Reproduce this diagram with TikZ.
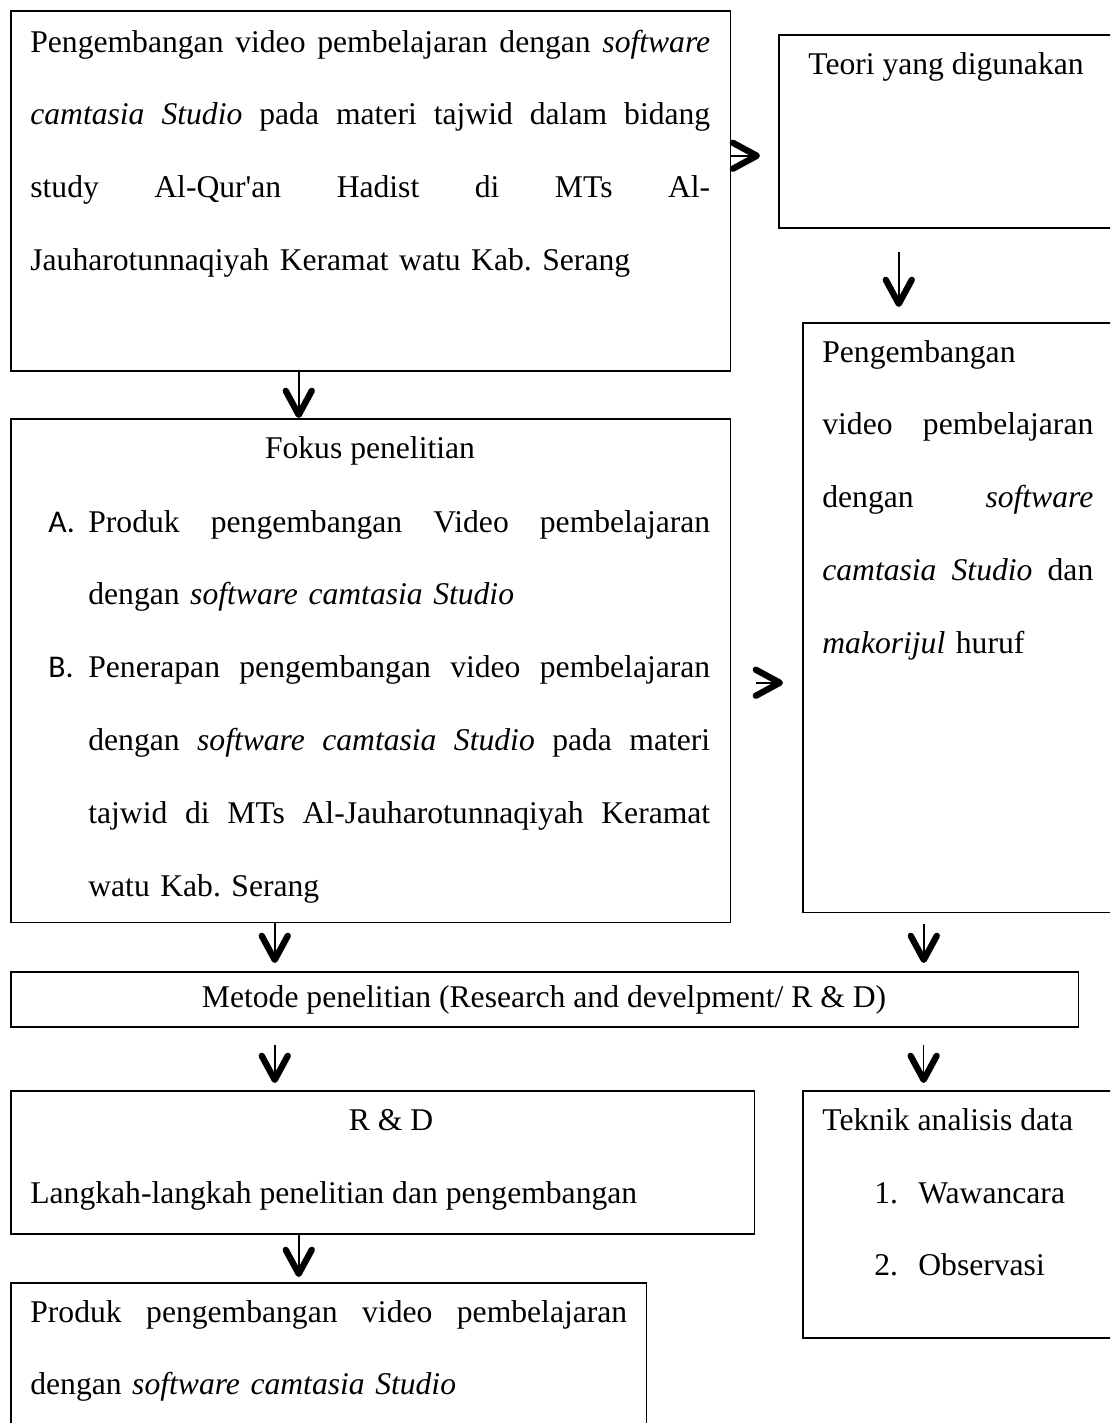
\documentclass[tikz,border=0pt]{standalone}
\usepackage{fontspec}
\setmainfont{Liberation Serif}
\newfontfamily\lblfont{Carlito}
\usetikzlibrary{arrows.meta}
\frenchspacing

\newcommand{\jline}[1]{\makebox[\hsize][s]{\spaceskip=0pt\relax #1}\\}
\newcommand{\lbl}[1]{\leavevmode\llap{\makebox[0.8cm][l]{\lblfont #1}}}
\newcommand{\nmr}[1]{\leavevmode\llap{\makebox[0.88cm][l]{#1}}}

\begin{document}
\begin{tikzpicture}
		[x=0.02cm, y=-0.02cm,
		box/.style = {draw, line width=0.9pt, anchor=north west, inner sep=0},
		txt/.style = {inner sep=0, font=\fontsize{18}{41.5}\selectfont},
		arr/.style = {line width=0.9pt, -{Straight Barb[length=0.48cm, width=0.52cm, line width=3.6pt, round]}}]
	\useasboundingbox (0,0) rectangle (1110,1423);
	\clip (0,0) rectangle (1110,1423);
	\node[box, minimum width=14.4cm, minimum height=7.2cm] (main) at (10,10) {};
	\node[txt, text width=13.6cm, anchor=base west] (maintext) at (30,52) {\jline{Pengembangan video pembelajaran dengan \textit{software}}\jline{\textit{camtasia Studio} pada materi tajwid dalam bidang}\jline{study Al-Qur\textquotesingle an Hadist di MTs Al-}Jauharotunnaqiyah Keramat watu Kab. Serang};
	\node[box, minimum width=6.76cm, minimum height=3.86cm] (teori) at (778,34) {};
	\node[txt, anchor=base west] (teoritext) at (808,74) {Teori yang digunakan};
	\node[box, minimum width=6.4cm, minimum height=11.8cm] (kajian) at (802,322) {};
	\node[txt, text width=5.42cm, anchor=base west] (kajiantext) at (822,362) {Pengembangan\\ \jline{video pembelajaran}\jline{dengan \textit{software}}\jline{\textit{camtasia Studio} dan}\textit{makorijul} huruf};
	\node[box, minimum width=14.4cm, minimum height=10.08cm] (fokus) at (10,418) {};
	\node[txt, anchor=base] (fokustitle) at (370,458) {Fokus penelitian};
	\node[txt, text width=12.44cm, anchor=base west] (fokuslist) at (88,532) {\jline{\lbl{A.}Produk pengembangan Video pembelajaran}dengan \textit{software camtasia Studio}\\ \jline{\lbl{B.}Penerapan pengembangan video pembelajaran}\jline{dengan \textit{software camtasia Studio} pada materi}\jline{tajwid di MTs Al-Jauharotunnaqiyah Keramat}watu Kab. Serang};
	\node[box, minimum width=21.36cm, minimum height=1.1cm] (metode) at (10,971) {};
	\node[txt, anchor=base] (metodetext) at (544,1007) {Metode penelitian (Research and develpment/ R \& D)};
	\node[box, minimum width=14.88cm, minimum height=2.86cm] (rnd) at (10,1090) {};
	\node[txt, anchor=base] (rndtitle) at (391,1130) {R \& D};
	\node[txt, anchor=base west] (rndtext) at (30,1203) {Langkah-langkah penelitian dan pengembangan};
	\node[box, minimum width=12.72cm, minimum height=2.92cm] (produk) at (10,1282) {};
	\node[txt, text width=11.94cm, anchor=base west] (produktext) at (30,1322) {\jline{Produk pengembangan video pembelajaran}dengan \textit{software camtasia Studio}};
	\node[box, minimum width=6.4cm, minimum height=4.94cm] (teknik) at (802,1090) {};
	\node[txt, anchor=base west] (tekniktitle) at (822,1130) {Teknik analisis data};
	\node[txt, text width=5cm, anchor=base west] (tekniklist) at (918,1203) {\nmr{1.}Wawancara\\ \nmr{2.}Observasi};
	\draw[arr, shorten >=0.36cm] ([yshift=0.7cm]main.east) -- ([yshift=0.7cm]main.east -| teori.west);
	\draw[arr] ([xshift=-1.44cm]main.south) -- ([xshift=-1.44cm]main.south |- fokus.north);
	\draw[arr, shorten <=0.46cm, shorten >=0.3cm] ([xshift=-0.98cm]teori.south) -- ([xshift=-0.98cm]teori.south |- kajian.north);
	\draw[arr, shorten <=0.5cm, shorten >=0.38cm] ([yshift=-0.24cm]fokus.east) -- ([yshift=-0.24cm]fokus.east -| kajian.west);
	\draw[arr, shorten >=0.16cm] ([xshift=-1.92cm]fokus.south) -- ([xshift=-1.92cm]fokus.south |- metode.north);
	\draw[arr, shorten <=0.22cm, shorten >=0.16cm] ([xshift=-0.78cm]kajian.south) -- ([xshift=-0.78cm]kajian.south |- metode.north);
	\draw[arr, shorten <=0.34cm, shorten >=0.14cm] ([xshift=-5.4cm]metode.south) -- ([xshift=-5.4cm]metode.south |- rnd.north);
	\draw[arr, shorten <=0.34cm, shorten >=0.14cm] ([xshift=7.58cm]metode.south) -- ([xshift=7.58cm]metode.south |- teknik.north);
	\draw[arr, shorten >=0.1cm] ([xshift=-1.68cm]rnd.south) -- ([xshift=-1.68cm]rnd.south |- produk.north);
\end{tikzpicture}
\end{document}
